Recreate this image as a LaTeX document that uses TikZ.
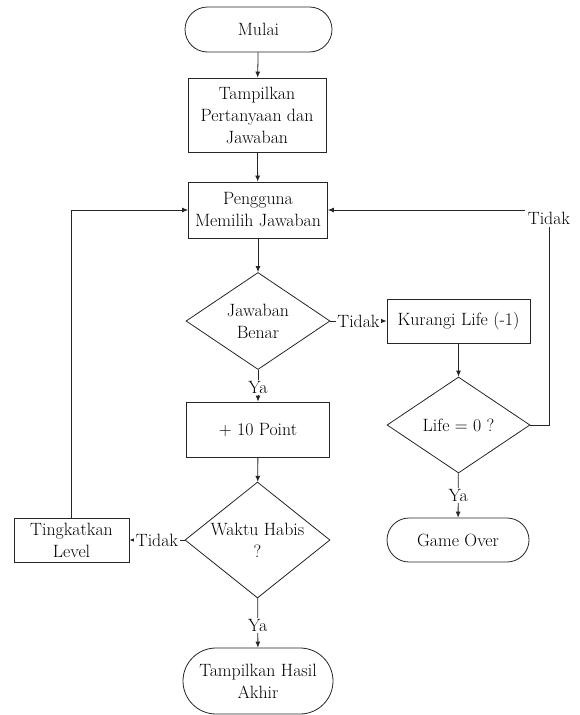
\documentclass[tikz,border=0pt]{standalone}
\usetikzlibrary{shapes.geometric,shapes.misc,arrows.meta}
\tikzset{
  shp/.style={draw=black!85, line width=0.8pt, inner sep=0pt},
  procbox/.style={shp, rectangle, align=center, font=\fontsize{17.8}{22}\selectfont},
  termbox/.style={shp, rounded rectangle},
  decis/.style={shp, diamond},
  txt/.style={align=center, inner sep=0pt, font=\fontsize{17.8}{22}\selectfont},
  elbl/.style={fill=white, inner sep=1.5pt, font=\fontsize{17.8}{22}\selectfont},
  arr/.style={draw=black!85, line width=0.8pt, -{Latex[length=6pt,width=5pt]}}
}
\begin{document}
\begin{tikzpicture}[x=1pt,y=-1pt]
\useasboundingbox[fill=white] (0,0) rectangle (579,715);
% nodes
\node[termbox, minimum width=147pt, minimum height=45pt] (mulai) at (258.5,29.5) {};
\node[txt] (mulait) at (mulai.center) {Mulai};
\node[procbox, minimum width=138pt, minimum height=74pt] (tampil) at (257,115) {Tampilkan\\Pertanyaan dan\\Jawaban};
\node[procbox, minimum width=139pt, minimum height=56pt] (peng) at (258,210) {Pengguna\\Memilih Jawaban};
\node[decis, minimum width=144pt, minimum height=97pt] (jb) at (258,321) {};
\node[txt] (jbt) at (jb.center) {Jawaban\\Benar};
\node[procbox, minimum width=143pt, minimum height=44pt] (kur) at (458.5,321) {Kurangi Life (-1)};
\node[decis, minimum width=143pt, minimum height=96pt] (life) at (458.5,425) {};
\node[txt] (lifet) at (life.center) {Life = 0 ?};
\node[termbox, minimum width=142pt, minimum height=44pt] (go) at (458,540) {};
\node[txt] (got) at (go.center) {Game Over};
\node[procbox, minimum width=143pt, minimum height=55pt] (pt) at (258,429.5) {+ 10 Point};
\node[decis, minimum width=145pt, minimum height=116pt] (wh) at (257.5,540) {};
\node[txt] (wht) at (wh.center) {Waktu Habis\\?};
\node[procbox, minimum width=115pt, minimum height=44pt] (tl) at (71.5,540) {Tingkatkan\\Level};
\node[termbox, minimum width=150pt, minimum height=66pt] (hasil) at (258,681) {};
\node[txt] (hasilt) at (hasil.center) {Tampilkan Hasil\\Akhir};
\coordinate (cr) at (549,210);
% connectors
\draw[arr] (mulai) -- (tampil);
\draw[arr] (tampil) -- (peng);
\draw[arr] (peng) -- (jb);
\draw[arr] (jb) -- node[elbl]{Tidak} (kur);
\draw[arr] (jb) -- node[elbl, pos=0.55]{Ya} (pt);
\draw[arr] (kur) -- (life);
\draw[arr] (life) -- node[elbl]{Ya} (go);
\draw[arr] (pt) -- (wh);
\draw[arr] (wh) -- node[elbl]{Tidak} (tl);
\draw[arr] (wh) -- node[elbl, pos=0.55]{Ya} (hasil);
\draw[arr] (tl.north) |- (peng.west);
\draw[arr] (life.east) -| (cr) node[elbl, yshift=-8pt, inner sep=2.5pt]{Tidak} -- (peng.east);
\end{tikzpicture}
\end{document}
